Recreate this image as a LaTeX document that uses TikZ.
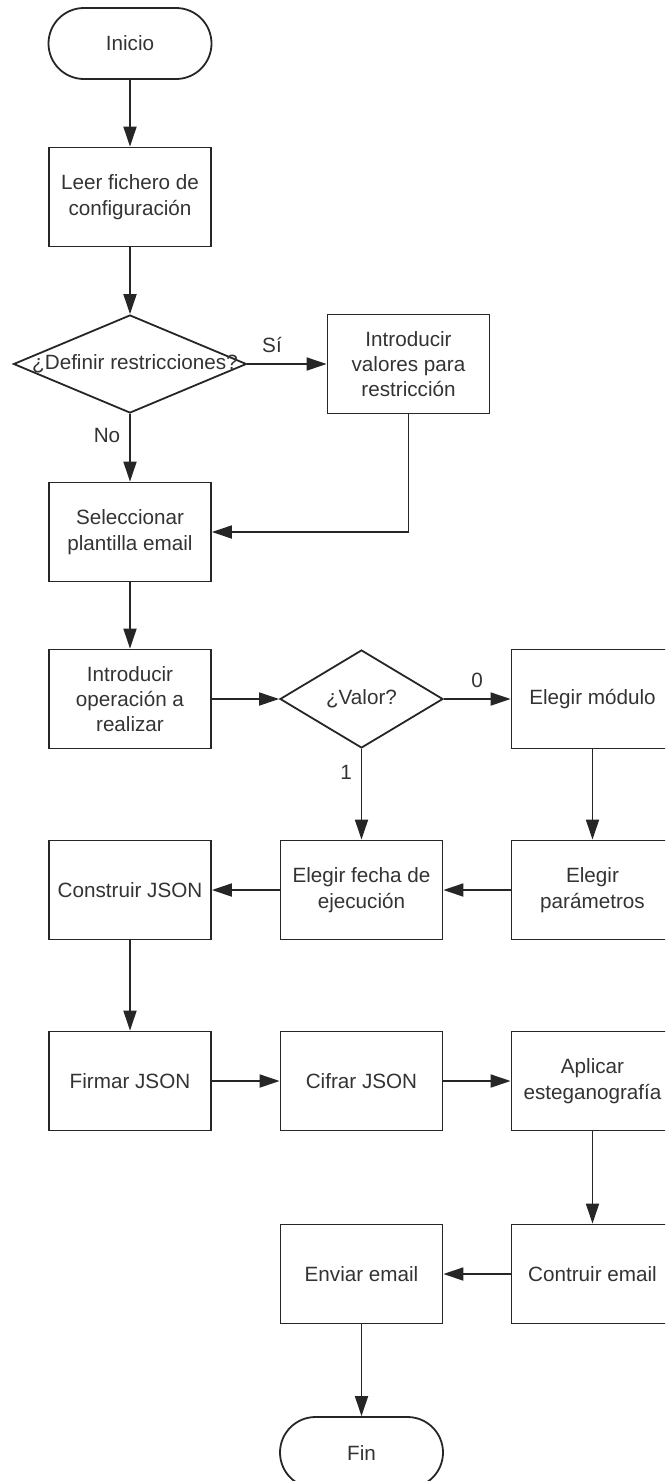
\documentclass[tikz,border=0pt]{standalone}
\usepackage{fontspec}
\setmainfont{Liberation Sans}
\usetikzlibrary{shapes.geometric,shapes.misc,arrows.meta}
\definecolor{ink}{HTML}{262626}
\definecolor{txt}{HTML}{333333}

\tikzset{
  base/.style={draw=ink, line width=1.35pt, text=txt, align=center,
    font=\fontsize{15.5}{19}\selectfont, inner sep=0pt},
  procbox/.style={base, rectangle, minimum width=121.5pt, minimum height=74.25pt},
  terminal/.style={base, rounded rectangle, minimum width=122.25pt, minimum height=53.25pt},
  decision/.style={base, diamond, minimum height=73.5pt},
  decisiontext/.style={text=txt, font=\fontsize{15.5}{19}\selectfont, inner sep=0pt},
  flowlabel/.style={text=txt, font=\fontsize{15.5}{19}\selectfont, inner sep=0pt},
  flow/.style={draw=ink, line width=1.35pt, -{Triangle[length=15pt, width=9.75pt]}},
}

\begin{document}
\begin{tikzpicture}[x=0.75pt, y=-0.75pt]
\useasboundingbox (0,0) rectangle (665,1481);
\clip (0,0) rectangle (665,1481);

% left column
\node[terminal] (inicio) at (130,43.5) {Inicio};
\node[procbox] (leer) at (130,197) {Leer fichero de\\configuración};
\node[decision, minimum width=174.75pt] (restr) at (130,364) {};
\node[decisiontext] (restrtext) at (135,364) {¿Definir restricciones?};
\node[procbox] (valores) at (408.5,364) {Introducir\\valores para\\restricción};
\node[procbox] (plantilla) at (130,532) {Seleccionar\\plantilla email};
\node[procbox] (operacion) at (130,699) {Introducir\\operación a\\realizar};

% operation choice
\node[decision, minimum width=122.25pt] (valor) at (361.5,699) {};
\node[decisiontext] (valortext) at (361.5,699) {¿Valor?};
\node[procbox] (modulo) at (592.5,699) {Elegir módulo};
\node[procbox] (construir) at (130,890) {Construir JSON};
\node[procbox] (fecha) at (361.5,890) {Elegir fecha de\\ejecución};
\node[procbox] (parametros) at (592.5,890) {Elegir\\parámetros};

% message assembly
\node[procbox] (firmar) at (130,1081) {Firmar JSON};
\node[procbox] (cifrar) at (361.5,1081) {Cifrar JSON};
\node[procbox] (aplicar) at (592.5,1081) {Aplicar\\esteganografía};
\node[procbox] (enviar) at (361.5,1274) {Enviar email};
\node[procbox] (contruir) at (592.5,1274) {Contruir email};
\node[terminal] (fin) at (361.5,1452.5) {Fin};

% branch labels
\node[flowlabel] (lblsi) at (272,345) {Sí};
\node[flowlabel] (lblno) at (107,435) {No};
\node[flowlabel] (lblcero) at (477,680) {0};
\node[flowlabel] (lbluno) at (346,772) {1};

% connectors
\draw[flow] (inicio) -- (leer);
\draw[flow] (leer) -- (restr);
\draw[flow] (restr.east) -- (valores.west);
\draw[flow] (restr.south) -- (plantilla.north);
\draw[flow] (valores.south) |- (plantilla.east);
\draw[flow] (plantilla) -- (operacion);
\draw[flow] (operacion.east) -- (valor.west);
\draw[flow] (valor.east) -- (modulo.west);
\draw[flow] (valor.south) -- (fecha.north);
\draw[flow] (modulo) -- (parametros);
\draw[flow] (parametros.west) -- (fecha.east);
\draw[flow] (fecha.west) -- (construir.east);
\draw[flow] (construir) -- (firmar);
\draw[flow] (firmar) -- (cifrar);
\draw[flow] (cifrar) -- (aplicar);
\draw[flow] (aplicar) -- (contruir);
\draw[flow] (contruir) -- (enviar);
\draw[flow] (enviar.south) -- (fin.north);
\end{tikzpicture}
\end{document}
